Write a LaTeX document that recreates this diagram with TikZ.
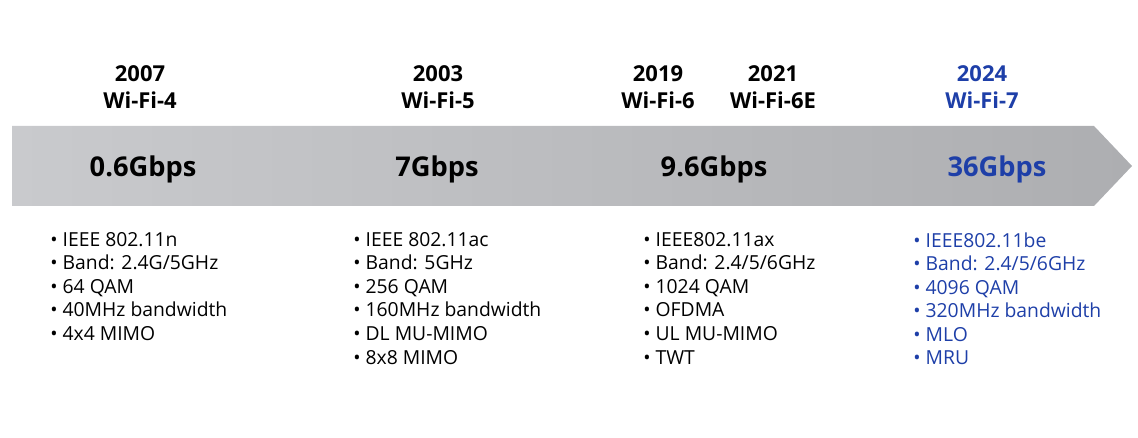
\documentclass[tikz,border=0pt]{standalone}
\usepackage{fontspec}
\setmainfont{Open Sans}
\usepackage{tikz}
\usetikzlibrary{positioning,calc}
\definecolor{wifiblue}{HTML}{1E3FA8}
\definecolor{barlight}{HTML}{C9CACD}
\definecolor{bardark}{HTML}{ADAEB1}

\tikzset{
  gen/.style={align=center, font=\fontsize{12.5}{15.3}\selectfont\bfseries, inner sep=0pt},
  speed/.style={font=\fontsize{15.5}{18}\selectfont\bfseries, inner sep=0pt},
  feats/.style={align=left, anchor=north west, inner sep=0pt,
                font=\fontsize{11}{13.4}\selectfont}
}

\begin{document}
\begin{tikzpicture}[x=0.02cm, y=-0.02cm]
  \useasboundingbox (0,0) rectangle (1138,438);

  % timeline arrow
  \shade[left color=barlight, right color=bardark]
    (12,126) -- (1094,126) -- (1132,166) -- (1094,206) -- (12,206) -- cycle;

  % generations
  \node[gen] (g4) at (140,87) {2007\\Wi-Fi-4};
  \node[gen] (g5) at (438,87) {2003\\Wi-Fi-5};
  \node[gen] (g6) at (658,87) {2019\\Wi-Fi-6};
  \node[gen] (g6e) at (773,87) {2021\\Wi-Fi-6E};
  \node[gen, text=wifiblue] (g7) at (982,87) {2024\\Wi-Fi-7};

  % speeds
  \node[speed] (s4) at (143,169) {0.6Gbps};
  \node[speed] (s5) at (437,169) {7Gbps};
  \node[speed] (s6) at (714,169) {9.6Gbps};
  \node[speed, text=wifiblue] (s7) at (997,169) {36Gbps};

  % features
  \node[feats] (f4) at (50,232) {\textbullet\ IEEE 802.11n\\ \textbullet\ Band: 2.4G/5GHz\\
    \textbullet\ 64 QAM\\ \textbullet\ 40MHz bandwidth\\ \textbullet\ 4x4 MIMO};
  \node[feats] (f5) at (353,232) {\textbullet\ IEEE 802.11ac\\ \textbullet\ Band: 5GHz\\
    \textbullet\ 256 QAM\\ \textbullet\ 160MHz bandwidth\\ \textbullet\ DL MU-MIMO\\
    \textbullet\ 8x8 MIMO};
  \node[feats] (f6) at (643,232) {\textbullet\ IEEE802.11ax\\ \textbullet\ Band: 2.4/5/6GHz\\
    \textbullet\ 1024 QAM\\ \textbullet\ OFDMA\\ \textbullet\ UL MU-MIMO\\ \textbullet\ TWT};
  \node[feats, text=wifiblue] (f7) at (913,232) {\textbullet\ IEEE802.11be\\
    \textbullet\ Band: 2.4/5/6GHz\\ \textbullet\ 4096 QAM\\ \textbullet\ 320MHz bandwidth\\
    \textbullet\ MLO\\ \textbullet\ MRU};
\end{tikzpicture}
\end{document}
